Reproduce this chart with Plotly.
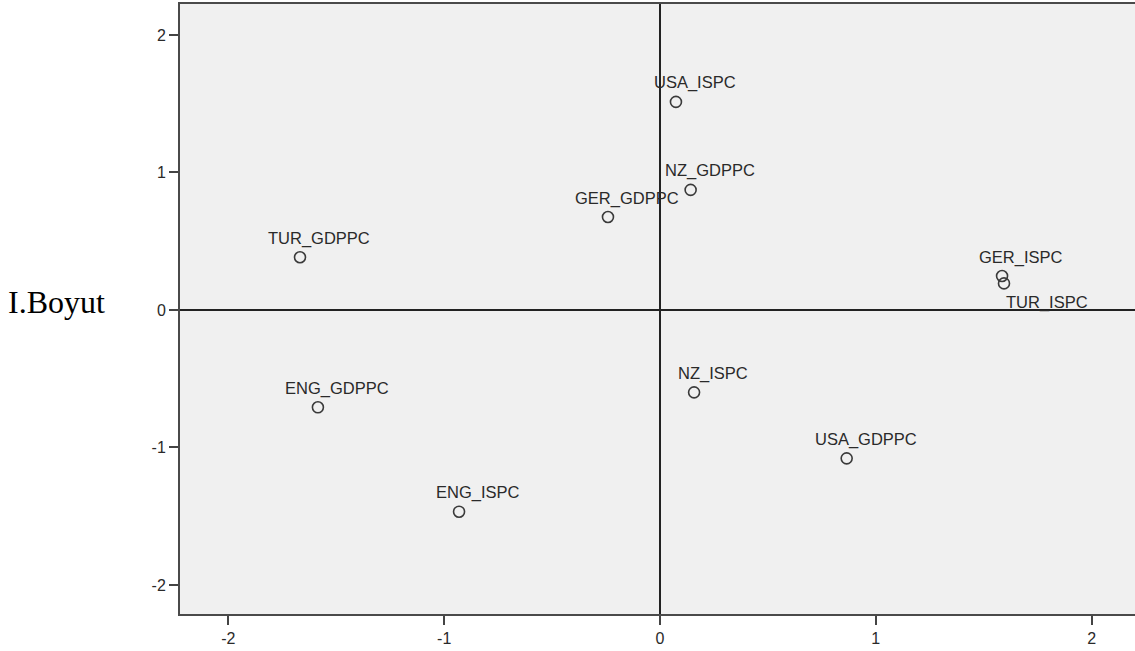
import plotly.graph_objects as go

labels = ["USA_ISPC", "NZ_GDPPC", "GER_GDPPC", "TUR_GDPPC", "GER_ISPC",
          "TUR_ISPC", "ENG_GDPPC", "NZ_ISPC", "USA_GDPPC", "ENG_ISPC"]
dim1 = [0.074, 0.142, -0.241, -1.668, 1.585, 1.594, -1.585, 0.158, 0.865, -0.931]
dim2 = [1.513, 0.873, 0.676, 0.383, 0.247, 0.193, -0.708, -0.599, -1.079, -1.467]
tick_vals = [-2, -1, 0, 1, 2]
tick_text = ["-2", "-1", "0", "1", "2"]
y_title = "I.Boyut"

# label placement (style): default above-right, special case below
default_shift = (19, 19)
special_shift = {"TUR_ISPC": (43, -19)}

fig = go.Figure()
fig.add_trace(go.Scatter(
    x=dim1, y=dim2, mode="markers",
    marker=dict(symbol="circle-open", size=11, color="#3a3a3a",
                line=dict(width=1.6, color="#3a3a3a")),
    hoverinfo="text", text=labels, showlegend=False,
))

for lab, xv, yv in zip(labels, dim1, dim2):
    dx, dy = special_shift.get(lab, default_shift)
    fig.add_annotation(x=xv, y=yv, text=lab, showarrow=False,
                       xshift=dx, yshift=dy, xanchor="center", yanchor="middle",
                       font=dict(family="Liberation Sans, Arial", size=16.5, color="#2a2a2a"))

fig.add_annotation(xref="paper", yref="paper", x=-0.182, y=0.511, text=y_title,
                   showarrow=False, xanchor="left", yanchor="middle",
                   font=dict(family="Liberation Serif, Times New Roman", size=32, color="#000000"))

axis_common = dict(
    tickvals=tick_vals, ticktext=tick_text, ticks="outside", ticklen=9, tickwidth=2,
    tickcolor="#444444",
    showgrid=False, zeroline=True, zerolinecolor="#222222", zerolinewidth=2,
    showline=True, linecolor="#4a4a4a", linewidth=2,
    tickfont=dict(family="Liberation Sans, Arial", size=16, color="#2a2a2a"),
)

fig.update_xaxes(range=[-2.224, 2.201], mirror=True, **axis_common)
fig.update_yaxes(range=[-2.211, 2.225], mirror=False, **axis_common)

fig.update_layout(
    width=1135, height=651,
    margin=dict(l=180, r=0, t=4, b=37),
    paper_bgcolor="white", plot_bgcolor="#f0f0f0",
)

fig.write_html("out.html", config={"displayModeBar": False},
               post_script="document.body.style.margin='0';document.body.style.overflow='hidden';")
